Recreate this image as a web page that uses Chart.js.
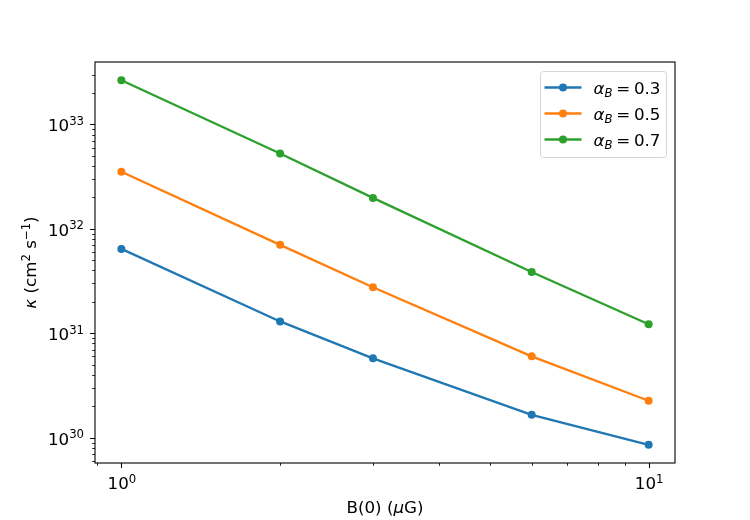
<!DOCTYPE html>
<html><head><meta charset="utf-8">
<script src="https://cdn.jsdelivr.net/npm/chart.js@4/dist/chart.umd.min.js"></script>
<style>html,body{margin:0;padding:0;background:#fff}#wrap{width:750px;height:520px;position:relative}</style>
</head><body><div id="wrap"><canvas id="c" width="750" height="520"></canvas></div>
<script>
// ---- data ----
const bField = [1, 2, 3, 6, 10];                 // B(0) in microgauss
const alphaValues = ['0.3', '0.5', '0.7'];
const kappaAlpha03 = [6.43e31, 1.30e31, 5.76e30, 1.66e30, 8.57e29];
const kappaAlpha05 = [3.52e32, 7.03e31, 2.76e31, 6.02e30, 2.26e30];
const kappaAlpha07 = [2.65e33, 5.27e32, 1.98e32, 3.87e31, 1.22e31];
const xMajorTicks = [1, 10];
const yMajorTicks = [1e30, 1e31, 1e32, 1e33];
const seriesColors = ['#1f77b4', '#ff7f0e', '#2ca02c'];

const FONT = 'DejaVu Sans';
Chart.defaults.font.family = FONT;
Chart.defaults.font.size = 16.7;
Chart.defaults.color = '#000';

function logLimits(vals){
  const lo = Math.log10(Math.min(...vals)), hi = Math.log10(Math.max(...vals));
  const m = (hi - lo) * 0.05;
  return [Math.pow(10, lo - m), Math.pow(10, hi + m)];
}
const [xMin, xMax] = logLimits(bField);
const [yMin, yMax] = logLimits([...kappaAlpha03, ...kappaAlpha05, ...kappaAlpha07]);

const seriesValues = [kappaAlpha03, kappaAlpha05, kappaAlpha07];
const datasets = seriesValues.map((vals, i) => ({
  label: 'α_B = ' + alphaValues[i],
  data: bField.map((b, j) => ({x: b, y: vals[j]})),
  borderColor: seriesColors[i],
  backgroundColor: seriesColors[i],
  borderWidth: 2.3,
  pointRadius: 4,
  pointHoverRadius: 4,
  pointBorderWidth: 0,
  fill: false,
  tension: 0
}));

function minorValues(min, max){
  const out = [];
  for (let d = Math.floor(Math.log10(min)) - 1; d <= Math.ceil(Math.log10(max)); d++) {
    for (let k = 2; k <= 9; k++) {
      const v = k * Math.pow(10, d);
      if (v >= min && v <= max) out.push(v);
    }
  }
  return out;
}

const F = '16.7px "' + FONT + '"', FI = 'italic 16.7px "' + FONT + '"';
const FS = '11.7px "' + FONT + '"', FSI = 'italic 11.7px "' + FONT + '"';
// runs: [text, font, baselineShift, extraGapAfter]
function runsWidth(ctx, runs){
  let w = 0;
  runs.forEach(r => { ctx.font = r[1]; w += ctx.measureText(r[0]).width + (r[3] || 0); });
  return w;
}
function drawRuns(ctx, runs, x, y){
  runs.forEach(r => { ctx.font = r[1]; ctx.fillText(r[0], x, y + r[2]); x += ctx.measureText(r[0]).width + (r[3] || 0); });
}
function powRuns(v){
  const e = Math.round(Math.log10(v));
  return [['10', F, 0], [String(e), FS, -6.5]];
}

const framePlugin = {
  id: 'frame',
  afterDatasetsDraw(chart){
    const ctx = chart.ctx, ca = chart.chartArea;
    const xs = chart.scales.x, ys = chart.scales.y;
    ctx.save();
    ctx.strokeStyle = '#000';
    ctx.lineWidth = 1.1;
    ctx.beginPath();
    xMajorTicks.forEach(v => { const px = Math.round(xs.getPixelForValue(v)) + 0.5; ctx.moveTo(px, ca.bottom); ctx.lineTo(px, ca.bottom + 4.9); });
    yMajorTicks.forEach(v => { const py = Math.round(ys.getPixelForValue(v)) + 0.5; ctx.moveTo(ca.left, py); ctx.lineTo(ca.left - 4.9, py); });
    ctx.stroke();
    ctx.lineWidth = 0.85;
    ctx.beginPath();
    minorValues(xs.min, xs.max).forEach(v => { const px = Math.round(xs.getPixelForValue(v)) + 0.5; ctx.moveTo(px, ca.bottom); ctx.lineTo(px, ca.bottom + 2.8); });
    minorValues(ys.min, ys.max).forEach(v => { const py = Math.round(ys.getPixelForValue(v)) + 0.5; ctx.moveTo(ca.left, py); ctx.lineTo(ca.left - 2.8, py); });
    ctx.stroke();
    ctx.lineWidth = 1.1;
    ctx.strokeRect(ca.left, ca.top, ca.right - ca.left, ca.bottom - ca.top);

    // tick labels
    ctx.fillStyle = '#000';
    ctx.textBaseline = 'alphabetic';
    ctx.textAlign = 'left';
    xMajorTicks.forEach(v => {
      const runs = powRuns(v), w = runsWidth(ctx, runs);
      drawRuns(ctx, runs, xs.getPixelForValue(v) - w / 2 + 0.5, ca.bottom + 26);
    });
    yMajorTicks.forEach(v => {
      const runs = powRuns(v), w = runsWidth(ctx, runs);
      drawRuns(ctx, runs, ca.left - 11 - w, ys.getPixelForValue(v) + 7);
    });
    // axis titles
    const xt = [['B(0) (', F, 0], ['μ', FI, 0], ['G)', F, 0]];
    drawRuns(ctx, xt, (ca.left + ca.right) / 2 - runsWidth(ctx, xt) / 2, 512.5);
    const yt = [['κ', FI, 0, 0], [' (cm', F, 0], ['2', FS, -6.5], [' s', F, 0], ['−1', FS, -6.5], [')', F, 0]];
    ctx.translate(36, (ca.top + ca.bottom) / 2);
    ctx.rotate(-Math.PI / 2);
    drawRuns(ctx, yt, -runsWidth(ctx, yt) / 2, 0);
    ctx.restore();
  },
  afterDraw(chart){
    const ctx = chart.ctx, ca = chart.chartArea;
    const left = ca.right - 134.5, top = ca.top + 9.5, w = 126, h = 86;
    ctx.save();
    ctx.beginPath();
    ctx.roundRect(left, top, w, h, 3);
    ctx.fillStyle = 'rgba(255,255,255,0.8)';
    ctx.fill();
    ctx.strokeStyle = '#d5d5d5';
    ctx.lineWidth = 1;
    ctx.stroke();
    chart.data.datasets.forEach((ds, i) => {
      const y = top + 16 + i * 26;
      ctx.strokeStyle = ds.borderColor;
      ctx.lineWidth = 2.3;
      ctx.beginPath();
      ctx.moveTo(left + 4, y); ctx.lineTo(left + 41, y);
      ctx.stroke();
      ctx.fillStyle = ds.borderColor;
      ctx.beginPath();
      ctx.arc(left + 22.5, y, 4, 0, Math.PI * 2);
      ctx.fill();
      ctx.fillStyle = '#000';
      ctx.textBaseline = 'alphabetic';
      const runs = [['α', FI, 0], ['B', FSI, 3.5, 3.7], ['=', F, 0, 3.7], [alphaValues[i], F, 0]];
      drawRuns(ctx, runs, left + 53, y + 6);
    });
    ctx.restore();
  }
};

new Chart(document.getElementById('c'), {
  type: 'line',
  data: { datasets },
  options: {
    responsive: false,
    animation: false,
    devicePixelRatio: 1,
    layout: { padding: { top: 62, right: 75, left: 0, bottom: 0 } },
    plugins: { legend: { display: false }, tooltip: { enabled: false } },
    scales: {
      x: {
        type: 'logarithmic',
        min: xMin, max: xMax,
        grid: { display: false, drawTicks: false },
        border: { display: false },
        afterBuildTicks: s => { s.ticks = xMajorTicks.map(v => ({value: v})); },
        afterFit: s => { s.height = 57; },
        ticks: { display: false, autoSkip: false, maxRotation: 0 },
        title: { display: false }
      },
      y: {
        type: 'logarithmic',
        min: yMin, max: yMax,
        grid: { display: false, drawTicks: false },
        border: { display: false },
        afterBuildTicks: s => { s.ticks = yMajorTicks.map(v => ({value: v})); },
        afterFit: s => { s.width = 95; },
        ticks: { display: false, autoSkip: false },
        title: { display: false }
      }
    }
  },
  plugins: [framePlugin]
});
</script>
</body></html>
